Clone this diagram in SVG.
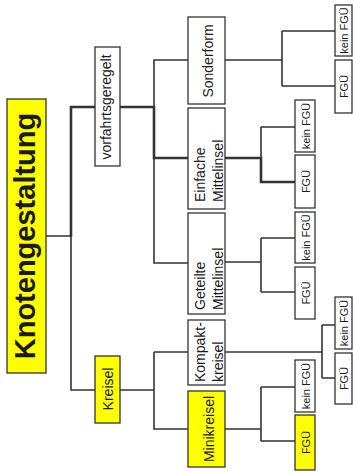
<svg xmlns="http://www.w3.org/2000/svg" width="353" height="471" viewBox="0 0 353 471">
<style>
.bx{fill:#fff;stroke:#333;stroke-width:1.3}
.y{fill:#ffff00}
.t{font-family:"Liberation Sans",Arial,sans-serif;font-size:14px;fill:#1a1a1a}
.s{font-size:11px}
.ln{stroke:#333;stroke-width:1.6;fill:none}
.th{stroke-width:2.6}
</style>
<rect width="353" height="471" fill="#fff"/>
<g id="connectors">
<path class="ln" d="M46,236 H71 M71,236 V390 H95 M154,107 V60 H188 M154,158 V263 H188 M120,390 H154 M154,352 H188 M154,390 V429 H188 M154,352 V390 M225,60 H282 M282,31 V86 M282,31 H335 M282,86 H335 M261,127 V158 M261,127 H295 M225,262 H261 M261,238 V292 M261,238 H295 M261,292 H295 M225,352 H322 M322,325 V378 M322,325 H335 M322,378 H335 M225,429 H261 M261,387 V441 M261,387 H295 M261,441 H295"/>
<path class="ln th" d="M71,237 V107 H95 M120,107 H154 V158 H188 M225,158 H261 V182 H295"/>
</g>
<g id="knotengestaltung"><rect class="bx y" x="7" y="99" width="39" height="274"/><text class="t" transform="translate(35,236) rotate(-90)" text-anchor="middle" style="font-size:29px;font-weight:bold">Knotengestaltung</text></g>
<g id="vorfahrtsgeregelt"><rect class="bx" x="95" y="47" width="25" height="119"/><text class="t" transform="translate(111,107) rotate(-90)" text-anchor="middle">vorfahrtsgeregelt</text></g>
<g id="kreisel"><rect class="bx y" x="95" y="356" width="25" height="67"/><text class="t" transform="translate(113,389) rotate(-90)" text-anchor="middle">Kreisel</text></g>
<g id="sonderform"><rect class="bx" x="188" y="17" width="37" height="87"/><text class="t" transform="translate(213,61) rotate(-90)" text-anchor="middle">Sonderform</text></g>
<g id="einfache"><rect class="bx" x="188" y="108" width="37" height="101"/><text class="t" transform="translate(205,202) rotate(-90)">Einfache</text><text class="t" transform="translate(223,202) rotate(-90)">Mittelinsel</text></g>
<g id="geteilte"><rect class="bx" x="188" y="213" width="37" height="101"/><text class="t" transform="translate(205,310) rotate(-90)">Geteilte</text><text class="t" transform="translate(223,310) rotate(-90)">Mittelinsel</text></g>
<g id="kompakt"><rect class="bx" x="188" y="320" width="37" height="65"/><text class="t" transform="translate(205,382) rotate(-90)">Kompakt-</text><text class="t" transform="translate(223,382) rotate(-90)">kreisel</text></g>
<g id="minikreisel"><rect class="bx y" x="188" y="391" width="37" height="76"/><text class="t" transform="translate(214,429) rotate(-90)" text-anchor="middle">Minikreisel</text></g>
<g id="so-kein"><rect class="bx" x="335" y="5" width="17" height="51"/><text class="t s" transform="translate(348,30.5) rotate(-90)" text-anchor="middle">kein FGÜ</text></g>
<g id="so-fgue"><rect class="bx" x="335" y="60" width="17" height="53"/><text class="t s" transform="translate(348,86.5) rotate(-90)" text-anchor="middle">FGÜ</text></g>
<g id="ei-kein"><rect class="bx" x="295" y="100" width="20" height="52"/><text class="t s" transform="translate(309.5,126) rotate(-90)" text-anchor="middle">kein FGÜ</text></g>
<g id="ei-fgue"><rect class="bx" x="295" y="155" width="20" height="53"/><text class="t s" transform="translate(309.5,181.5) rotate(-90)" text-anchor="middle">FGÜ</text></g>
<g id="ge-kein"><rect class="bx" x="295" y="212" width="20" height="51"/><text class="t s" transform="translate(309.5,237.5) rotate(-90)" text-anchor="middle">kein FGÜ</text></g>
<g id="ge-fgue"><rect class="bx" x="295" y="267" width="20" height="52"/><text class="t s" transform="translate(309.5,293) rotate(-90)" text-anchor="middle">FGÜ</text></g>
<g id="ko-kein"><rect class="bx" x="335" y="297" width="17" height="52"/><text class="t s" transform="translate(348,323) rotate(-90)" text-anchor="middle">kein FGÜ</text></g>
<g id="ko-fgue"><rect class="bx" x="335" y="353" width="17" height="51"/><text class="t s" transform="translate(348,378.5) rotate(-90)" text-anchor="middle">FGÜ</text></g>
<g id="mi-kein"><rect class="bx" x="295" y="360" width="20" height="52"/><text class="t s" transform="translate(309.5,386) rotate(-90)" text-anchor="middle">kein FGÜ</text></g>
<g id="mi-fgue"><rect class="bx y" x="295" y="415" width="20" height="55"/><text class="t s" transform="translate(309.5,442.5) rotate(-90)" text-anchor="middle">FGÜ</text></g>
</svg>
